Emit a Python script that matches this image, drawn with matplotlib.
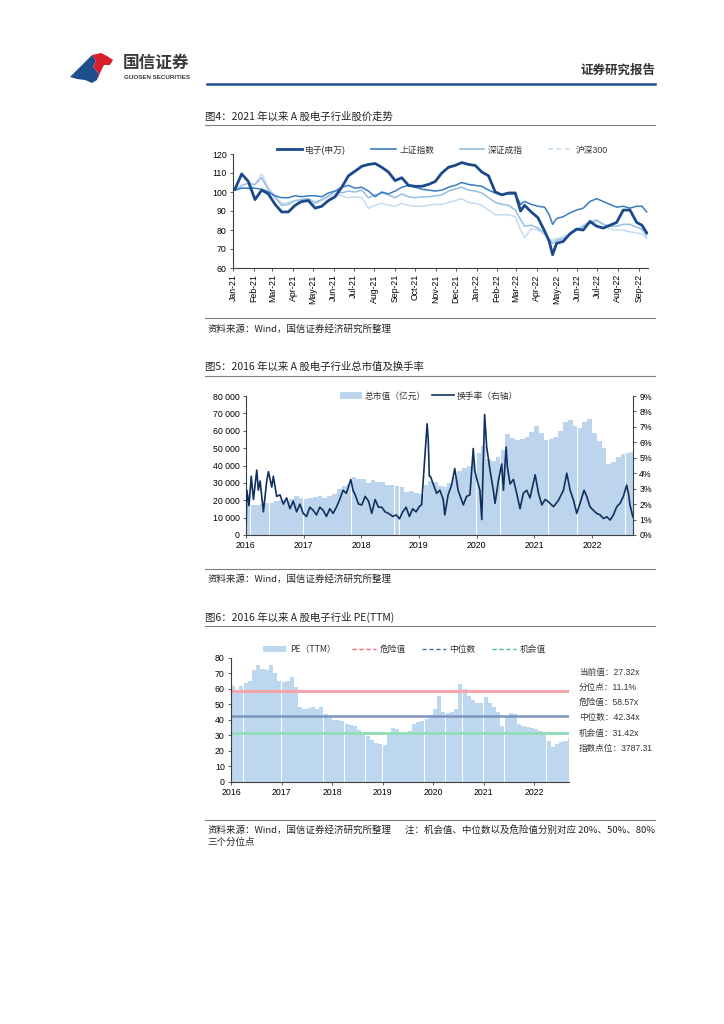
import matplotlib
matplotlib.use("Agg")
import matplotlib.pyplot as plt
import matplotlib.dates as mdates
from matplotlib.lines import Line2D
from matplotlib.patches import Polygon, Patch
from matplotlib.ticker import FuncFormatter
import pandas as pd

plt.rcParams['font.family'] = ['Liberation Sans', 'Noto Sans CJK SC', 'DejaVu Sans']
CJK = ['Noto Sans CJK SC', 'DejaVu Sans']

# ---- 图4 数据 ----
px_dates = ["2021-01-04", "2021-01-14", "2021-01-24", "2021-02-03", "2021-02-13", "2021-02-23",
            "2021-03-05", "2021-03-15", "2021-03-25", "2021-04-04", "2021-04-14", "2021-04-24",
            "2021-05-04", "2021-05-14", "2021-05-24", "2021-06-03", "2021-06-13", "2021-06-23",
            "2021-07-03", "2021-07-13", "2021-07-23", "2021-08-02", "2021-08-12", "2021-08-22",
            "2021-09-01", "2021-09-11", "2021-09-21", "2021-10-01", "2021-10-11", "2021-10-21",
            "2021-10-31", "2021-11-10", "2021-11-20", "2021-11-30", "2021-12-10", "2021-12-20",
            "2021-12-30", "2022-01-09", "2022-01-19", "2022-01-29", "2022-02-08", "2022-02-18",
            "2022-02-28", "2022-03-08", "2022-03-14", "2022-03-24", "2022-04-03", "2022-04-13",
            "2022-04-20", "2022-04-25", "2022-05-01", "2022-05-11", "2022-05-21", "2022-05-31",
            "2022-06-10", "2022-06-20", "2022-06-30", "2022-07-10", "2022-07-20", "2022-07-30",
            "2022-08-09", "2022-08-19", "2022-08-29", "2022-09-06", "2022-09-13"]
px_elec = [101.5, 109.5, 105.5, 96, 101, 99, 93.5, 89.5, 89.5, 93, 95, 95.5,
           91.5, 92.5, 95.5, 97.5, 102.5, 108.5, 111, 113.5, 114.5, 115, 113, 110.5,
           106, 107.5, 103.5, 103, 103, 104, 105.5, 110, 113, 114, 115.5, 114.5,
           114, 110.5, 108.5, 100, 98.5, 99.5, 99.5, 90, 93, 89.5, 86.5, 79.5,
           74, 67, 73, 74, 78, 80.5, 80, 84.5, 82, 81, 82.5, 84,
           90.5, 90.5, 84, 82.5, 78.5]
px_sh = [101, 102, 102, 102, 101.5, 100, 98, 97, 97, 98, 97.5, 98,
         98, 97.5, 99.5, 100.5, 102.5, 103.5, 102, 102.5, 100.5, 97.5, 100, 99,
         100.5, 102.5, 103.5, 102.5, 101.5, 101, 100.5, 101, 102.5, 103.5, 105, 104,
         103.5, 103, 101, 99.5, 98.5, 99, 99, 93.5, 95, 93.5, 92.5, 92,
         88, 83, 86, 87, 89, 90.5, 91.5, 95, 96.5, 95, 93.5, 92,
         92.5, 91.5, 92.5, 92.5, 89.5]
px_sz = [101, 103.5, 104.5, 104, 107.5, 101, 97, 93, 93.5, 95.5, 96, 96.5,
         94.5, 96, 98, 100.5, 99.5, 100.5, 100, 101, 97, 98.5, 99.5, 98.5,
         97, 99, 97.5, 97, 97.5, 97.5, 98, 98.5, 100.5, 101.5, 102.5, 101,
         100.5, 99.5, 97, 94.5, 93.5, 93, 90.5, 85.5, 82, 82.5, 81, 78.5,
         75, 73, 74.5, 75.5, 77.5, 80, 82, 83.5, 85, 83, 82, 82,
         83, 83, 81.5, 80.5, 77]
px_hs300 = [101, 102.5, 101.5, 104, 109.5, 102, 98, 94, 94.5, 95.5, 94.5, 95.5,
            93.5, 95.5, 97.5, 99, 98, 97, 97.5, 97, 91.5, 93, 94, 93,
            92.5, 94, 93, 92.5, 92.5, 93, 93.5, 93.5, 94.5, 95.5, 96.5, 94.5,
            94, 93, 90.5, 88, 88, 88, 87, 80, 76, 80.5, 80, 77.5,
            75, 74.5, 75.5, 76.5, 78, 80, 82.5, 84.5, 85.5, 83, 80.5, 80,
            80, 79, 78.5, 78, 75.5]
px_labels = ["电子(申万)", "上证指数", "深证成指", "沪深300"]

# ---- 图5 数据 ----
mv_months = pd.date_range("2016-01-01", "2022-09-01", freq="MS")
mv_values = [23000, 17000, 17500, 18000, 18500, 18500, 19500, 20000, 19500, 21000, 22500, 21500,
             21000, 21500, 22000, 22500, 21500, 22500, 23500, 26500, 28000, 29500, 33500, 32000,
             32500, 30000, 31500, 30500, 30500, 29000, 28500, 28000, 27500, 25000, 25500, 24000,
             23500, 28500, 31000, 30500, 28000, 27500, 30000, 33500, 37000, 38500, 40000, 42000,
             47000, 51000, 44000, 42500, 45000, 49000, 58000, 56000, 54500, 55500, 56500, 59000,
             63000, 58500, 54500, 55500, 56500, 60000, 65000, 66000, 62500, 61500, 65000, 67000,
             58500, 54000, 50000, 41000, 42000, 45000, 46500, 47000, 48000]
to_dates = ["2016-01-04", "2016-01-08", "2016-01-22", "2016-02-05", "2016-02-19", "2016-03-11",
            "2016-03-21", "2016-04-01", "2016-04-22", "2016-05-13", "2016-05-24", "2016-06-14",
            "2016-06-24", "2016-07-15", "2016-08-05", "2016-08-26", "2016-09-16", "2016-10-07",
            "2016-10-28", "2016-11-18", "2016-12-09", "2016-12-30", "2017-01-20", "2017-02-10",
            "2017-03-03", "2017-03-24", "2017-04-14", "2017-05-05", "2017-05-26", "2017-06-16",
            "2017-07-07", "2017-07-28", "2017-08-18", "2017-09-08", "2017-09-29", "2017-10-27",
            "2017-11-10", "2017-11-24", "2017-12-15", "2018-01-05", "2018-01-26", "2018-02-16",
            "2018-03-09", "2018-03-30", "2018-04-20", "2018-05-11", "2018-06-01", "2018-06-22",
            "2018-07-20", "2018-08-10", "2018-08-31", "2018-09-21", "2018-10-12", "2018-11-02",
            "2018-11-23", "2018-12-14", "2019-01-04", "2019-01-18", "2019-02-08", "2019-02-22",
            "2019-03-01", "2019-03-08", "2019-03-15", "2019-04-02", "2019-04-23", "2019-05-14",
            "2019-06-04", "2019-06-14", "2019-07-05", "2019-07-26", "2019-08-16", "2019-09-06",
            "2019-09-27", "2019-10-09", "2019-10-30", "2019-11-20", "2019-12-11", "2019-12-20",
            "2020-01-03", "2020-01-22", "2020-02-03", "2020-02-12", "2020-02-21", "2020-03-05",
            "2020-03-26", "2020-04-16", "2020-04-27", "2020-05-18", "2020-06-08", "2020-06-19",
            "2020-07-06", "2020-07-14", "2020-07-31", "2020-08-21", "2020-09-11", "2020-10-02",
            "2020-10-23", "2020-11-13", "2020-12-04", "2021-01-06", "2021-01-27", "2021-02-17",
            "2021-03-10", "2021-03-31", "2021-05-02", "2021-06-03", "2021-07-04", "2021-07-25",
            "2021-08-15", "2021-09-05", "2021-09-26", "2021-10-17", "2021-11-11", "2021-11-28",
            "2021-12-19", "2022-01-09", "2022-01-30", "2022-02-21", "2022-03-14", "2022-04-04",
            "2022-04-25", "2022-05-16", "2022-06-06", "2022-06-27", "2022-07-18", "2022-08-08",
            "2022-08-19", "2022-08-29", "2022-09-16"]
to_rate = [0.8, 2.9, 1.9, 3.8, 2.3, 4.2, 2.9, 3.5, 1.5, 3.5, 4.1, 3.1,
           3.8, 2.5, 2.6, 2.0, 2.4, 1.7, 2.2, 1.5, 2.0, 1.4, 1.2, 1.8,
           1.6, 1.3, 1.8, 1.6, 1.2, 1.7, 1.4, 1.8, 2.3, 2.9, 2.7, 3.6,
           2.9, 2.6, 2.0, 1.95, 2.5, 2.2, 1.4, 2.3, 1.8, 1.8, 1.5, 1.4,
           1.2, 1.3, 1.05, 1.5, 1.8, 1.2, 1.7, 1.5, 1.85, 1.95, 5.1, 7.2,
           6.2, 3.8, 3.8, 3.3, 2.7, 2.9, 2.3, 1.3, 2.6, 3.2, 4.3, 2.9,
           2.3, 1.95, 2.5, 2.6, 5.6, 4.2, 3.6, 2.9, 1.0, 4.6, 7.8, 5.7,
           4.2, 2.9, 2.05, 3.5, 4.6, 2.9, 5.7, 4.4, 3.3, 3.6, 2.7, 1.7,
           2.7, 2.9, 2.4, 3.9, 2.7, 1.95, 2.3, 2.15, 1.83, 2.26, 2.9, 4.0,
           2.9, 2.26, 1.4, 2.05, 2.9, 2.5, 1.83, 1.6, 1.4, 1.3, 1.07, 1.18,
           0.97, 1.3, 1.83, 2.05, 2.5, 3.23, 2.7, 1.94, 1.18]

# ---- 图6 数据 ----
pe_months = pd.date_range("2016-01-01", "2022-09-01", freq="MS")
pe_values = [62, 59, 62, 63.5, 65, 72, 75, 73, 72, 75, 70, 65,
             64.5, 65, 67.5, 61, 48, 47, 47.5, 48, 47, 48, 44, 41,
             40, 39.5, 39, 37.5, 36.5, 36, 33.5, 32, 29.5, 27, 25, 24.5,
             23.5, 30, 34.5, 34, 30, 30.5, 33, 37, 38.5, 39, 40.5, 43,
             47, 55, 45, 44.5, 45, 47, 63, 60, 55, 52.5, 51, 50.5,
             54.5, 51, 48, 45, 36, 42, 44.5, 44, 37, 36, 35.5, 34.5,
             34, 32.5, 30, 26.5, 22.5, 24.5, 25.5, 26.5, 28.5]
pe_current = 27.32
pe_pct = 11.1
pe_danger = 58.57
pe_median = 42.34
pe_chance = 31.42
index_level = 3787.31

W, H = 724, 1024


def fx(x):
    return x / W


def fy(y):
    return 1 - y / H


def hline(fig, x0, x1, y, color="#7f7f7f", lw=0.8):
    fig.add_artist(Line2D([fx(x0), fx(x1)], [fy(y), fy(y)], transform=fig.transFigure,
                          color=color, lw=lw))


def style_axis(ax):
    for s in ["top", "right"]:
        ax.spines[s].set_visible(False)
    for s in ["left", "bottom"]:
        ax.spines[s].set_linewidth(0.8)
        ax.spines[s].set_color("#404040")
    ax.tick_params(labelsize=6.3, length=2.5, width=0.6, color="#404040", pad=2)


fig = plt.figure(figsize=(W / 100, H / 100), dpi=100)

# 页眉
blue_pts = [(70, 77), (78, 69), (86, 61), (92, 55), (96, 61), (93, 67), (99, 73), (97, 80),
            (92, 83), (85, 80), (77, 79)]
red_pts = [(92, 55), (101, 53), (107, 56), (113, 60), (110, 65), (104, 65), (101, 71), (99, 76),
           (97, 80), (99, 73), (93, 67), (96, 61)]
fig.add_artist(Polygon([(fx(a), fy(b)) for a, b in blue_pts], closed=True, transform=fig.transFigure,
                       facecolor="#1F4E8C", edgecolor="none"))
fig.add_artist(Polygon([(fx(a), fy(b)) for a, b in red_pts], closed=True, transform=fig.transFigure,
                       facecolor="#D7202C", edgecolor="none"))
fig.text(fx(123), fy(63), "国信证券", fontsize=12, fontweight="bold", color="#3a3a3a",
         va="center", family=CJK)
fig.text(fx(124), fy(77.5), "GUOSEN SECURITIES", fontsize=4.5, fontweight="bold", color="#3a3a3a",
         va="center")
fig.text(fx(655), fy(70), "证券研究报告", fontsize=9, fontweight="bold", color="#333333",
         ha="right", va="center", family=CJK)
hline(fig, 207, 655, 84, color="#1F4E8C", lw=1.8)

# 标题和来源
fig.text(fx(205), fy(117), "图4：2021 年以来 A 股电子行业股价走势", fontsize=7.5, color="#222222",
         va="center", family=CJK)
hline(fig, 205, 655, 125)
hline(fig, 205, 655, 318)
fig.text(fx(207), fy(329), "资料来源：Wind，国信证券经济研究所整理", fontsize=6.8, color="#222222",
         va="center", family=CJK)

fig.text(fx(205), fy(367), "图5：2016 年以来 A 股电子行业总市值及换手率", fontsize=7.5, color="#222222",
         va="center", family=CJK)
hline(fig, 205, 655, 376)
hline(fig, 205, 655, 569)
fig.text(fx(207), fy(579), "资料来源：Wind，国信证券经济研究所整理", fontsize=6.8, color="#222222",
         va="center", family=CJK)

fig.text(fx(205), fy(617), "图6：2016 年以来 A 股电子行业 PE(TTM)", fontsize=7.5, color="#222222",
         va="center", family=CJK)
hline(fig, 205, 655, 626)
hline(fig, 205, 655, 820)
fig.text(fx(207), fy(830), "资料来源：Wind，国信证券经济研究所整理", fontsize=6.8, color="#222222",
         va="center", family=CJK)
fig.text(fx(655), fy(830), "注：机会值、中位数以及危险值分别对应 20%、50%、80%", fontsize=6.8,
         color="#222222", ha="right", va="center", family=CJK)
fig.text(fx(207), fy(842), "三个分位点", fontsize=6.8, color="#222222", va="center", family=CJK)

# ---- 图4 ----
ax1 = fig.add_axes([fx(233), fy(268), (648 - 233) / W, (268 - 154) / H])
d1 = pd.to_datetime(px_dates)
ax1.plot(d1, px_hs300, color="#C6DCF1", lw=1.1)
ax1.plot(d1, px_sz, color="#94BEE5", lw=1.1)
ax1.plot(d1, px_sh, color="#3A7CC0", lw=1.1)
ax1.plot(d1, px_elec, color="#1B4A8A", lw=2.0)
ax1.set_ylim(60, 120)
ax1.set_yticks(range(60, 121, 10))
ax1.set_xlim(pd.Timestamp("2021-01-01"), pd.Timestamp("2022-09-15"))
ax1.xaxis.set_major_locator(mdates.MonthLocator())
ax1.xaxis.set_major_formatter(mdates.DateFormatter("%b-%y"))
style_axis(ax1)
ax1.tick_params(axis="x", labelrotation=90)
h1 = [Line2D([], [], color="#1B4A8A", lw=2.0),
      Line2D([], [], color="#3A7CC0", lw=1.2),
      Line2D([], [], color="#94BEE5", lw=1.2),
      Line2D([], [], color="#C6DCF1", lw=1.2, ls=(0, (3, 2)))]
ax1.legend(h1, px_labels, ncol=4, loc="center", bbox_to_anchor=(0.505, 1.035), frameon=False,
           fontsize=6.3, handlelength=2.8, columnspacing=2.9, handletextpad=0.4, labelcolor="#333333")

# ---- 图5 ----
ax2 = fig.add_axes([fx(245.7), fy(535), (633 - 245.7) / W, (535 - 396) / H])
ax2.bar(mv_months, mv_values, width=29.5, align="edge", color="#BDD5EC", edgecolor="none")
ax2.set_ylim(0, 80000)
ax2.set_yticks(range(0, 80001, 10000))
ax2.yaxis.set_major_formatter(FuncFormatter(lambda v, p: f"{int(v):,}".replace(",", " ")))
ax2.set_xlim(pd.Timestamp("2016-01-01"), pd.Timestamp("2022-09-17"))
ax2.xaxis.set_major_locator(mdates.YearLocator())
ax2.xaxis.set_major_formatter(mdates.DateFormatter("%Y"))
style_axis(ax2)
ax2r = ax2.twinx()
ax2r.plot(pd.to_datetime(to_dates), to_rate, color="#10305F", lw=1.2)
ax2r.set_ylim(0, 9)
ax2r.set_yticks(range(0, 10))
ax2r.yaxis.set_major_formatter(FuncFormatter(lambda v, p: f"{int(v)}%"))
ax2r.spines["top"].set_visible(False)
ax2r.spines["left"].set_visible(False)
ax2r.spines["right"].set_linewidth(0.8)
ax2r.spines["right"].set_color("#404040")
ax2r.spines["bottom"].set_visible(False)
ax2r.tick_params(labelsize=6.3, length=2.5, width=0.6, color="#404040", pad=2)
h2 = [Patch(facecolor="#BDD5EC", edgecolor="none"), Line2D([], [], color="#10305F", lw=1.2)]
ax2r.legend(h2, ["总市值（亿元）", "换手率（右轴）"], ncol=2, loc="center", bbox_to_anchor=(0.473, 1.0),
            frameon=False, handlelength=2.6, columnspacing=0.6, handletextpad=0.3,
            labelcolor="#333333", prop={"family": CJK, "size": 6.3})

# ---- 图6 ----
ax3 = fig.add_axes([fx(231), fy(781.7), (569 - 231) / W, (781.7 - 657.7) / H])
ax3.bar(pe_months, pe_values, width=29.5, align="edge", color="#BDD7EE", edgecolor="none")
ax3.axhline(pe_danger, color="#F5A5AB", lw=2.2)
ax3.axhline(pe_median, color="#7C95BE", lw=1.8)
ax3.axhline(pe_chance, color="#8EDDB8", lw=2.0)
ax3.set_ylim(0, 80)
ax3.set_yticks(range(0, 81, 10))
ax3.set_xlim(pd.Timestamp("2016-01-01"), pd.Timestamp("2022-09-10"))
ax3.xaxis.set_major_locator(mdates.YearLocator())
ax3.xaxis.set_major_formatter(mdates.DateFormatter("%Y"))
style_axis(ax3)
h3 = [Patch(facecolor="#BDD7EE", edgecolor="none"),
      Line2D([], [], color="#F06C76", lw=1.0, ls=(0, (3, 2))),
      Line2D([], [], color="#4F6E9F", lw=1.0, ls=(0, (3, 2))),
      Line2D([], [], color="#45C58E", lw=1.0, ls=(0, (3, 2)))]
ax3.legend(h3, ["PE（TTM）", "危险值", "中位数", "机会值"], ncol=4, loc="center",
           bbox_to_anchor=(0.512, 1.068), frameon=False, handlelength=2.7, columnspacing=1.9,
           handletextpad=0.4, labelcolor="#333333", prop={"family": CJK, "size": 6.3})

side = [f"当前值：{pe_current:.2f}x", f"分位点：{pe_pct:.1f}%", f"危险值：{pe_danger:.2f}x",
        f"中位数：{pe_median:.2f}x", f"机会值：{pe_chance:.2f}x", f"指数点位：{index_level:.2f}"]
for i, s in enumerate(side):
    fig.text(fx(579), fy(672 + i * 15.3), s, fontsize=6.2, color="#333333", va="center")

fig.savefig("out.png", dpi=100)
